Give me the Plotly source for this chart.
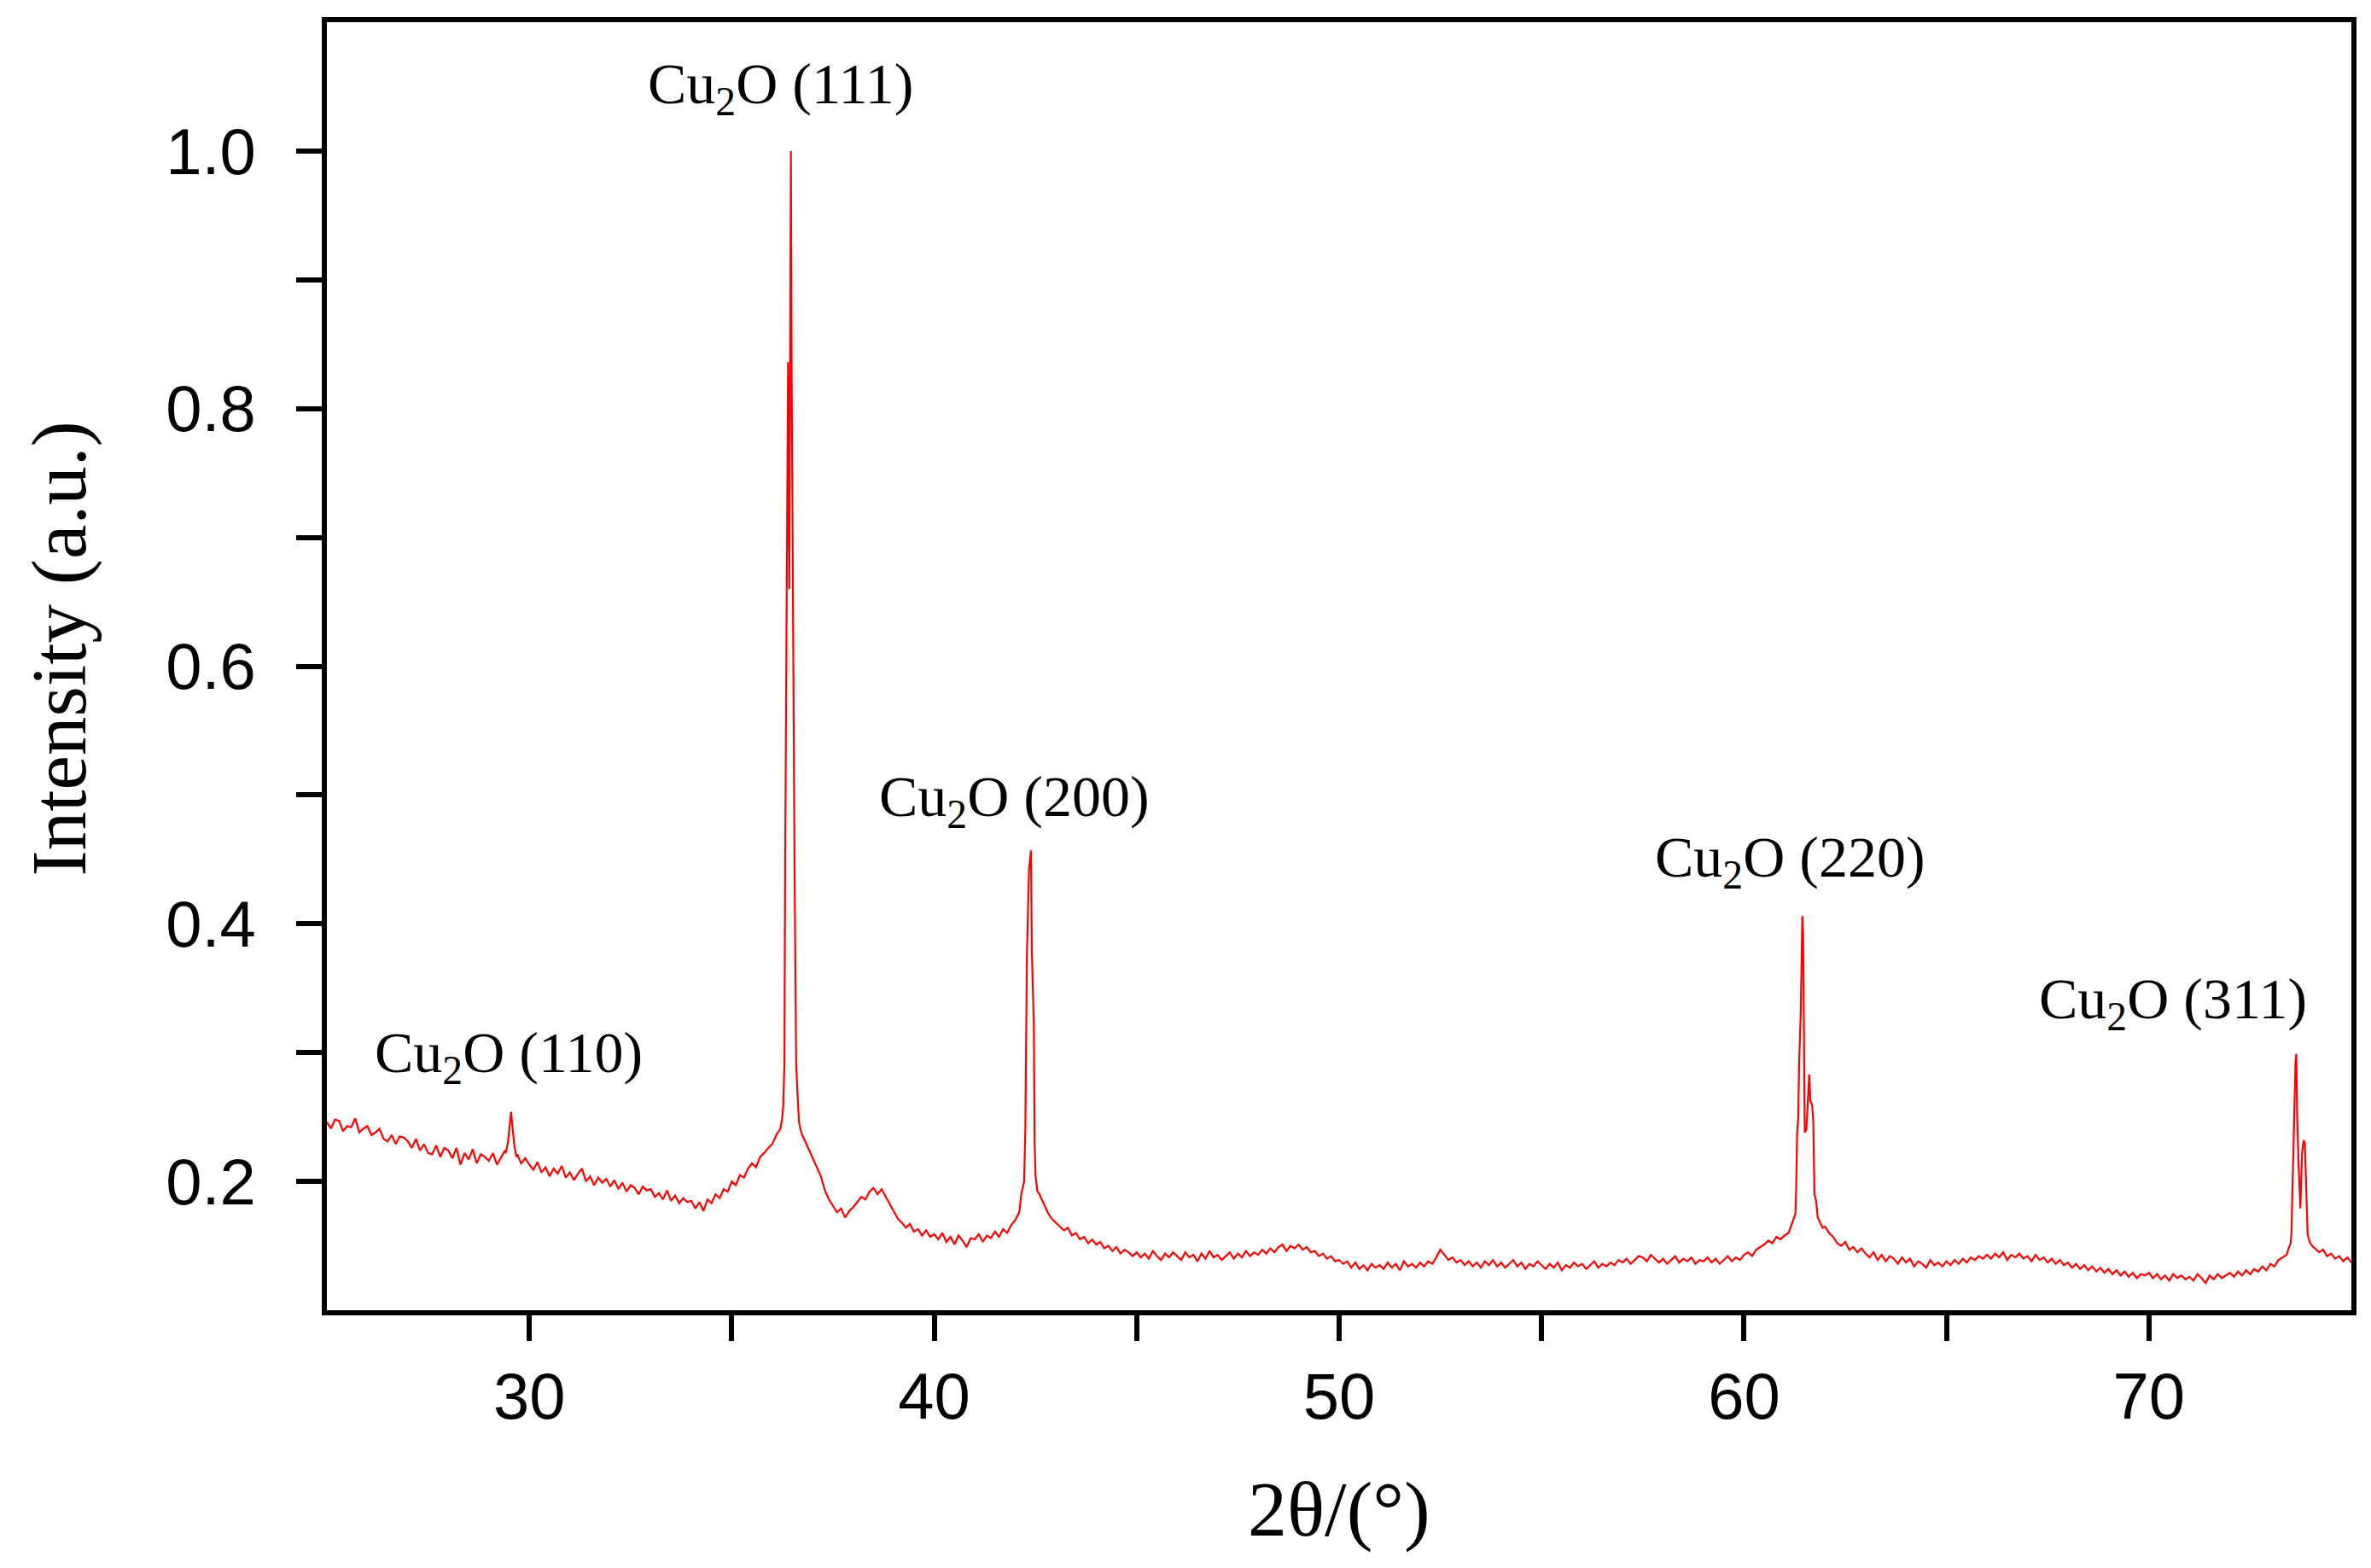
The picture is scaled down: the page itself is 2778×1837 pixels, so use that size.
import numpy as np
import plotly.graph_objects as go

# XRD pattern of Cu2O, normalised intensity.
# Background scan: 0.1 deg steps from 25.0 deg, one row per degree.
scan_start = 25.0
scan_step = 0.1
bg_25_30 = [
    0.246, 0.241, 0.248, 0.247, 0.239, 0.243, 0.242, 0.249, 0.238, 0.241,
    0.243, 0.236, 0.238, 0.241, 0.233, 0.231, 0.236, 0.229, 0.235, 0.234,
    0.231, 0.226, 0.233, 0.224, 0.229, 0.222, 0.221, 0.228, 0.219, 0.226,
    0.224, 0.218, 0.226, 0.213, 0.222, 0.217, 0.225, 0.214, 0.221, 0.219,
    0.216, 0.222, 0.213, 0.219, 0.224, 0.236, 0.238, 0.221, 0.214, 0.218,
]
bg_30_35 = [
    0.213, 0.209, 0.215, 0.207, 0.211, 0.204, 0.210, 0.206, 0.212, 0.203,
    0.207, 0.201, 0.206, 0.210, 0.200, 0.204, 0.197, 0.203, 0.199, 0.202,
    0.196, 0.201, 0.194, 0.199, 0.192, 0.197, 0.195, 0.190, 0.196, 0.193,
    0.194, 0.188, 0.191, 0.186, 0.193, 0.185, 0.189, 0.183, 0.187, 0.184,
    0.185, 0.179, 0.184, 0.177, 0.186, 0.183, 0.190, 0.187, 0.194, 0.192,
]
bg_35_40 = [
    0.200, 0.197, 0.205, 0.203, 0.210, 0.214, 0.211, 0.219, 0.222, 0.226,
    0.229, 0.236, 0.240, 0.250, 0.300, 0.300, 0.300, 0.240, 0.232, 0.225,
    0.219, 0.211, 0.204, 0.193, 0.186, 0.181, 0.176, 0.179, 0.172, 0.177,
    0.180, 0.184, 0.188, 0.186, 0.192, 0.195, 0.190, 0.194, 0.188, 0.183,
    0.177, 0.171, 0.168, 0.164, 0.167, 0.161, 0.163, 0.158, 0.162, 0.157,
]
bg_40_45 = [
    0.159, 0.155, 0.160, 0.153, 0.157, 0.151, 0.158, 0.154, 0.149, 0.156,
    0.155, 0.159, 0.153, 0.158, 0.156, 0.161, 0.157, 0.163, 0.160, 0.166,
    0.170, 0.180, 0.200, 0.300, 0.400, 0.300, 0.200, 0.183, 0.176, 0.171,
    0.168, 0.165, 0.162, 0.164, 0.158, 0.160, 0.155, 0.157, 0.152, 0.155,
    0.151, 0.153, 0.148, 0.150, 0.146, 0.149, 0.144, 0.147, 0.145, 0.142,
]
bg_45_50 = [
    0.145, 0.141, 0.144, 0.140, 0.146, 0.142, 0.139, 0.144, 0.141, 0.145,
    0.142, 0.139, 0.145, 0.141, 0.143, 0.138, 0.144, 0.140, 0.146, 0.141,
    0.143, 0.139, 0.142, 0.145, 0.140, 0.144, 0.141, 0.146, 0.142, 0.145,
    0.143, 0.147, 0.144, 0.148, 0.145, 0.149, 0.151, 0.146, 0.150, 0.148,
    0.151, 0.147, 0.149, 0.145, 0.146, 0.142, 0.144, 0.140, 0.142, 0.138,
]
bg_50_55 = [
    0.139, 0.136, 0.138, 0.133, 0.137, 0.132, 0.135, 0.131, 0.136, 0.133,
    0.135, 0.132, 0.137, 0.133, 0.136, 0.131, 0.138, 0.134, 0.136, 0.133,
    0.137, 0.134, 0.138, 0.136, 0.141, 0.147, 0.143, 0.139, 0.141, 0.137,
    0.139, 0.135, 0.138, 0.134, 0.137, 0.133, 0.138, 0.135, 0.139, 0.134,
    0.137, 0.133, 0.136, 0.139, 0.134, 0.137, 0.132, 0.136, 0.134, 0.138,
]
bg_55_60 = [
    0.135, 0.132, 0.136, 0.133, 0.137, 0.131, 0.135, 0.133, 0.137, 0.134,
    0.136, 0.132, 0.135, 0.138, 0.133, 0.136, 0.134, 0.137, 0.135, 0.139,
    0.137, 0.140, 0.136, 0.139, 0.142, 0.141, 0.138, 0.143, 0.140, 0.137,
    0.140, 0.136, 0.139, 0.142, 0.137, 0.140, 0.138, 0.141, 0.136, 0.139,
    0.138, 0.141, 0.137, 0.140, 0.136, 0.139, 0.142, 0.138, 0.141, 0.139,
]
bg_60_65 = [
    0.143, 0.145, 0.142, 0.147, 0.149, 0.151, 0.154, 0.152, 0.157, 0.155,
    0.158, 0.160, 0.170, 0.200, 0.300, 0.300, 0.250, 0.200, 0.170, 0.166,
    0.165, 0.160, 0.157, 0.152, 0.150, 0.153, 0.147, 0.149, 0.145, 0.148,
    0.144, 0.141, 0.145, 0.139, 0.143, 0.138, 0.142, 0.140, 0.136, 0.141,
    0.137, 0.140, 0.134, 0.138, 0.136, 0.133, 0.139, 0.135, 0.137, 0.134,
]
bg_65_70 = [
    0.138, 0.135, 0.139, 0.136, 0.140, 0.137, 0.141, 0.139, 0.142, 0.140,
    0.143, 0.140, 0.144, 0.141, 0.145, 0.139, 0.143, 0.141, 0.144, 0.140,
    0.142, 0.138, 0.143, 0.139, 0.141, 0.137, 0.140, 0.136, 0.139, 0.135,
    0.137, 0.133, 0.136, 0.132, 0.135, 0.131, 0.134, 0.130, 0.133, 0.129,
    0.132, 0.128, 0.131, 0.127, 0.130, 0.126, 0.129, 0.125, 0.128, 0.127,
]
bg_70_75 = [
    0.129, 0.125, 0.128, 0.124, 0.127, 0.123, 0.128, 0.125, 0.127, 0.124,
    0.126, 0.123, 0.128, 0.125, 0.121, 0.127, 0.124, 0.128, 0.125, 0.127,
    0.129, 0.126, 0.130, 0.127, 0.131, 0.128, 0.132, 0.130, 0.134, 0.131,
    0.136, 0.134, 0.139, 0.141, 0.145, 0.150, 0.200, 0.250, 0.200, 0.160,
    0.152, 0.148, 0.145, 0.147, 0.142, 0.144, 0.140, 0.142, 0.138, 0.141,
    0.137,
]

# Peaks, sampled finer than the background scan
peak_110_x = [29.42, 29.48, 29.52, 29.55, 29.58, 29.63, 29.68]
peak_110_y = [0.222, 0.232, 0.246, 0.254, 0.243, 0.228, 0.219]

peak_111_x = [36.20, 36.24, 36.27, 36.30, 36.32, 36.35, 36.39, 36.42, 36.44, 36.46,
              36.48, 36.50, 36.52, 36.55, 36.59, 36.62, 36.66, 36.70, 36.74]
peak_111_y = [0.241, 0.248, 0.258, 0.292, 0.456, 0.605, 0.836, 0.660, 0.830, 1.000,
              0.820, 0.660, 0.605, 0.445, 0.292, 0.270, 0.246, 0.240, 0.236]

peak_200_x = [42.10, 42.15, 42.22, 42.25, 42.27, 42.29, 42.34, 42.39, 42.41, 42.44,
              42.46, 42.48, 42.50, 42.55, 42.60]
peak_200_y = [0.176, 0.190, 0.200, 0.240, 0.300, 0.377, 0.442, 0.457, 0.380, 0.330,
              0.322, 0.230, 0.205, 0.192, 0.190]

peak_220_x = [61.10, 61.17, 61.23, 61.27, 61.29, 61.31, 61.34, 61.36, 61.40, 61.43,
              61.44, 61.46, 61.48, 61.50, 61.54, 61.58, 61.61, 61.64, 61.68, 61.71,
              61.74, 61.78, 61.82, 61.88, 61.94]
peak_220_y = [0.160, 0.166, 0.172, 0.175, 0.197, 0.236, 0.250, 0.291, 0.330, 0.392,
              0.406, 0.392, 0.329, 0.238, 0.240, 0.270, 0.283, 0.262, 0.260, 0.247,
              0.190, 0.185, 0.172, 0.168, 0.164]

peak_311_x = [73.40, 73.45, 73.50, 73.52, 73.55, 73.59, 73.62, 73.64, 73.66, 73.69,
              73.72, 73.74, 73.78, 73.82, 73.85, 73.88, 73.92, 73.97, 74.03]
peak_311_y = [0.143, 0.148, 0.152, 0.160, 0.205, 0.252, 0.292, 0.299, 0.252, 0.219,
              0.185, 0.179, 0.221, 0.232, 0.230, 0.197, 0.159, 0.153, 0.150]

peak_labels = ["Cu<sub>2</sub>O (110)", "Cu<sub>2</sub>O (111)", "Cu<sub>2</sub>O (200)",
               "Cu<sub>2</sub>O (220)", "Cu<sub>2</sub>O (311)"]
label_x = [29.50, 36.22, 41.97, 61.13, 70.60]
label_y = [0.297, 1.049, 0.496, 0.449, 0.339]

# ---- assemble the scan: background with the peak windows replaced
bg_y = np.array(bg_25_30 + bg_30_35 + bg_35_40 + bg_40_45 + bg_45_50
                + bg_50_55 + bg_55_60 + bg_60_65 + bg_65_70 + bg_70_75)
bg_x = np.round(scan_start + scan_step * np.arange(len(bg_y)), 2)

peaks = [(peak_110_x, peak_110_y), (peak_111_x, peak_111_y), (peak_200_x, peak_200_y),
         (peak_220_x, peak_220_y), (peak_311_x, peak_311_y)]
keep = np.ones(len(bg_x), dtype=bool)
for px_, py_ in peaks:
    keep &= ~((bg_x >= min(px_)) & (bg_x <= max(px_)))

all_x = np.concatenate([bg_x[keep]] + [np.array(p[0]) for p in peaks])
all_y = np.concatenate([bg_y[keep]] + [np.array(p[1]) for p in peaks])
order = np.argsort(all_x)
two_theta = all_x[order]
intensity = all_y[order]

serif = "Times New Roman, Liberation Serif, serif"
sans = "Arial, Liberation Sans, sans-serif"

fig = go.Figure()
fig.add_trace(go.Scatter(x=two_theta, y=intensity, mode="lines",
                         line=dict(color="#ff0000", width=2.2), showlegend=False))

for txt, lx, ly in zip(peak_labels, label_x, label_y):
    fig.add_annotation(x=lx, y=ly, text=txt, showarrow=False, xanchor="center", yanchor="middle",
                       font=dict(family=serif, size=68, color="black"))

# axis titles as annotations so they sit where the original has them
fig.add_annotation(x=0, y=0.5, xref="paper", yref="paper", xshift=-314, yshift=20,
                   xanchor="center", yanchor="middle", text="Intensity (a.u.)", borderpad=0,
                   textangle=-90, showarrow=False, font=dict(family=serif, size=91, color="black"))
fig.add_annotation(x=0.5, y=0, xref="paper", yref="paper", yshift=-233, text="2θ/(°)",
                   showarrow=False, xanchor="center", yanchor="middle",
                   font=dict(family=serif, size=92, color="black"))

axis_common = dict(showline=True, linecolor="black", linewidth=6, mirror=True,
                   showgrid=False, zeroline=False, ticks="outside", ticklen=30, tickwidth=6,
                   tickcolor="black", tickfont=dict(family=sans, size=76, color="black"))
minor_ticks = dict(ticks="outside", ticklen=30, tickwidth=6, tickcolor="black")

fig.update_xaxes(range=[25, 75], tickvals=[30, 40, 50, 60, 70],
                 minor=dict(tickvals=[35, 45, 55, 65], **minor_ticks),
                 **axis_common)
fig.update_yaxes(range=[0.1, 1.1], tickvals=[0.2, 0.4, 0.6, 0.8, 1.0], tickformat=".1f",
                 ticklabelstandoff=32,
                 minor=dict(tickvals=[0.3, 0.5, 0.7, 0.9], **minor_ticks),
                 **axis_common)

fig.update_layout(width=2778, height=1837, autosize=False,
                  margin=dict(l=375, r=31, t=12, b=310),
                  paper_bgcolor="white", plot_bgcolor="white")

fig.write_html("out.html")
